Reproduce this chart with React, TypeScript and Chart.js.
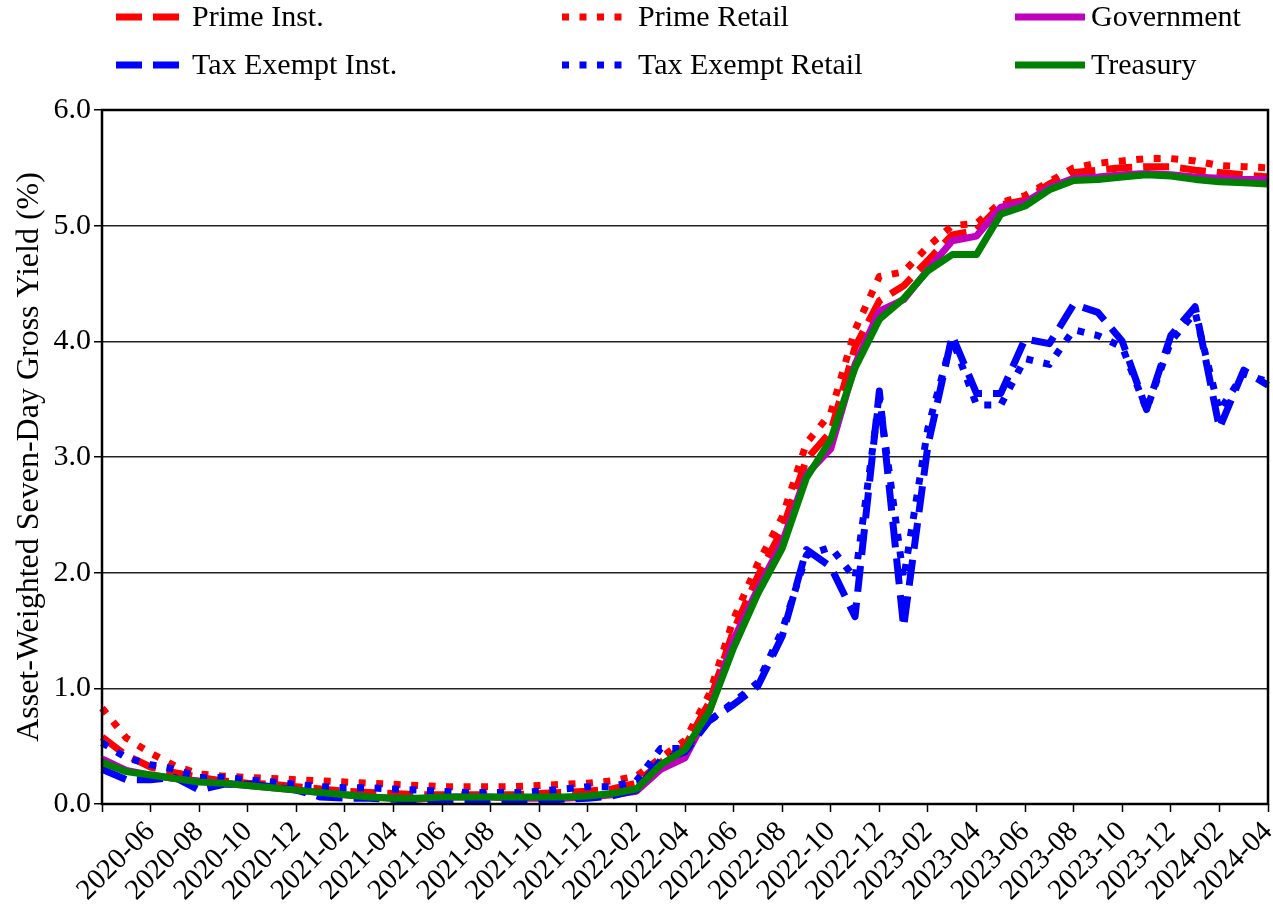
import React, { useEffect, useRef } from 'react';
import { Chart, registerables } from 'chart.js';

Chart.register(...registerables);

const months: string[] = [
  '2020-04', '2020-05', '2020-06', '2020-07', '2020-08', '2020-09', '2020-10', '2020-11', '2020-12',
  '2021-01', '2021-02', '2021-03', '2021-04', '2021-05', '2021-06', '2021-07', '2021-08', '2021-09', '2021-10', '2021-11', '2021-12',
  '2022-01', '2022-02', '2022-03', '2022-04', '2022-05', '2022-06', '2022-07', '2022-08', '2022-09', '2022-10', '2022-11', '2022-12',
  '2023-01', '2023-02', '2023-03', '2023-04', '2023-05', '2023-06', '2023-07', '2023-08', '2023-09', '2023-10', '2023-11', '2023-12',
  '2024-01', '2024-02', '2024-03', '2024-04',
];

const primeInst: number[] = [
  0.58, 0.42, 0.32, 0.27, 0.23, 0.20, 0.18, 0.17, 0.15, 0.13, 0.11, 0.10, 0.09, 0.08, 0.08, 0.08, 0.08, 0.08, 0.09, 0.10,
  0.11, 0.13, 0.18, 0.36, 0.50, 0.88, 1.50, 1.97, 2.37, 2.98, 3.22, 3.95, 4.35, 4.48, 4.70, 4.92, 4.96, 5.18, 5.22, 5.36,
  5.46, 5.48, 5.50, 5.51, 5.51, 5.48, 5.46, 5.44, 5.42,
];

const primeRetail: number[] = [
  0.83, 0.57, 0.44, 0.33, 0.26, 0.24, 0.23, 0.22, 0.21, 0.20, 0.19, 0.18, 0.17, 0.16, 0.15, 0.15, 0.15, 0.15, 0.16, 0.17,
  0.18, 0.20, 0.24, 0.40, 0.55, 0.95, 1.60, 2.08, 2.48, 3.12, 3.38, 4.10, 4.56, 4.60, 4.82, 5.00, 5.02, 5.20, 5.26, 5.38,
  5.50, 5.54, 5.56, 5.58, 5.58, 5.56, 5.52, 5.51, 5.50,
];

const government: number[] = [
  0.39, 0.29, 0.25, 0.22, 0.20, 0.18, 0.16, 0.14, 0.12, 0.10, 0.08, 0.06, 0.05, 0.04, 0.06, 0.06, 0.06, 0.05, 0.05, 0.05,
  0.06, 0.08, 0.11, 0.30, 0.40, 0.80, 1.42, 1.86, 2.26, 2.85, 3.07, 3.80, 4.26, 4.36, 4.62, 4.87, 4.91, 5.16, 5.20, 5.33,
  5.41, 5.42, 5.44, 5.45, 5.44, 5.42, 5.41, 5.40, 5.40,
];

const taxExemptInst: number[] = [
  0.30, 0.21, 0.21, 0.23, 0.12, 0.17, 0.17, 0.15, 0.12, 0.06, 0.05, 0.05, 0.04, 0.03, 0.02, 0.02, 0.03, 0.03, 0.03, 0.04,
  0.05, 0.07, 0.12, 0.38, 0.45, 0.72, 0.86, 1.02, 1.45, 2.20, 2.05, 1.62, 3.57, 1.53, 3.10, 4.05, 3.55, 3.55, 4.02, 3.98,
  4.32, 4.25, 4.00, 3.41, 4.05, 4.30, 3.25, 3.75, 3.62,
];

const taxExemptRetail: number[] = [
  0.53, 0.40, 0.34, 0.30, 0.23, 0.23, 0.21, 0.19, 0.17, 0.15, 0.14, 0.14, 0.13, 0.12, 0.11, 0.10, 0.10, 0.10, 0.11, 0.13,
  0.15, 0.15, 0.20, 0.48, 0.48, 0.72, 0.88, 1.05, 1.50, 2.15, 2.22, 1.95, 3.50, 1.95, 3.25, 4.02, 3.45, 3.45, 3.85, 3.80,
  4.10, 4.05, 3.95, 3.41, 4.00, 4.25, 3.40, 3.72, 3.65,
];

const treasury: number[] = [
  0.36, 0.28, 0.25, 0.22, 0.19, 0.18, 0.16, 0.14, 0.12, 0.10, 0.08, 0.06, 0.05, 0.05, 0.06, 0.06, 0.06, 0.06, 0.06, 0.06,
  0.07, 0.09, 0.13, 0.34, 0.47, 0.80, 1.35, 1.82, 2.21, 2.82, 3.15, 3.77, 4.19, 4.37, 4.61, 4.75, 4.75, 5.10, 5.17, 5.31,
  5.39, 5.40, 5.42, 5.44, 5.43, 5.40, 5.38, 5.37, 5.36,
];

const yTicks: number[] = [0, 1, 2, 3, 4, 5, 6];

const FONT = "'Liberation Serif', 'Times New Roman', serif";
const DASHED = [26, 11];
const DOTTED = [7, 10.5];
const LW = 7;

const seriesDefs = [
  { label: 'Prime Inst.', data: primeInst, color: '#ff0000', dash: DASHED },
  { label: 'Prime Retail', data: primeRetail, color: '#ff0000', dash: DOTTED },
  { label: 'Government', data: government, color: '#bf00bf', dash: [] as number[] },
  { label: 'Tax Exempt Inst.', data: taxExemptInst, color: '#0000ff', dash: DASHED },
  { label: 'Tax Exempt Retail', data: taxExemptRetail, color: '#0000ff', dash: DOTTED },
  { label: 'Treasury', data: treasury, color: '#008000', dash: [] as number[] },
];

// legend grid: 3 columns x 2 rows
const legendCols = [116, 562, 1015];
const legendRows = [17, 65];

const legendPlugin = {
  id: 'gridLegend',
  afterDraw(chart: any) {
    const ctx = chart.ctx as CanvasRenderingContext2D;
    seriesDefs.forEach((s, i) => {
      const col = i % 3;
      const row = Math.floor(i / 3);
      const x0 = legendCols[col];
      const y = legendRows[row];
      ctx.save();
      ctx.strokeStyle = s.color;
      ctx.lineWidth = LW;
      ctx.lineCap = 'butt';
      ctx.setLineDash(s.dash);
      ctx.beginPath();
      ctx.moveTo(x0, y);
      ctx.lineTo(x0 + 70, y);
      ctx.stroke();
      ctx.setLineDash([]);
      ctx.fillStyle = '#000';
      ctx.font = `30px ${FONT}`;
      ctx.textBaseline = 'middle';
      ctx.textAlign = 'left';
      ctx.fillText(s.label, x0 + 76, y + 1);
      ctx.restore();
    });
  },
};

const framePlugin = {
  id: 'frame',
  afterDraw(chart: any) {
    const { ctx, chartArea } = chart;
    ctx.save();
    ctx.strokeStyle = '#000';
    ctx.lineWidth = 2.5;
    ctx.strokeRect(chartArea.left, chartArea.top, chartArea.right - chartArea.left, chartArea.bottom - chartArea.top);
    ctx.restore();
  },
};

export default function App() {
  const ref = useRef<HTMLCanvasElement>(null);

  useEffect(() => {
    document.body.style.margin = '0';
    const canvas = ref.current;
    if (!canvas) return;
    const chart = new Chart(canvas, {
      type: 'line',
      data: {
        labels: months,
        datasets: seriesDefs.map((s, i) => ({
          label: s.label,
          data: s.data,
          borderColor: s.color,
          backgroundColor: s.color,
          borderWidth: LW,
          borderDash: s.dash,
          borderCapStyle: 'butt',
          borderJoinStyle: 'round',
          pointRadius: 0,
          tension: 0,
          fill: false,
          order: seriesDefs.length - i,
        })),
      },
      options: {
        animation: false,
        responsive: false,
        devicePixelRatio: 1,
        layout: { padding: { top: 110, right: 5, left: 0, bottom: 0 } },
        plugins: {
          legend: { display: false },
          tooltip: { enabled: false },
        },
        scales: {
          x: {
            type: 'category',
            offset: false,
            border: { display: false },
            grid: {
              drawOnChartArea: false,
              drawTicks: true,
              tickLength: 8,
              tickWidth: 1.5,
              tickColor: (c: any) => (c.index % 2 === 0 ? '#000' : 'rgba(0,0,0,0)'),
            },
            ticks: {
              autoSkip: false,
              minRotation: 45,
              maxRotation: 45,
              padding: 3,
              color: '#000',
              font: { family: FONT, size: 29 },
              callback: (_v: any, i: number) => (i % 2 === 0 && i > 0 ? months[i] : ''),
            },
            afterFit: (s: any) => {
              s.height = 107;
              s.paddingLeft = 0;
              s.paddingRight = 0;
            },
          },
          y: {
            min: 0,
            max: 6,
            border: { display: false },
            grid: {
              color: '#222',
              lineWidth: 1.5,
              drawTicks: true,
              tickLength: 8,
              tickColor: '#000',
              tickWidth: 1.5,
            },
            afterBuildTicks: (s: any) => {
              s.ticks = yTicks.map((v) => ({ value: v }));
            },
            ticks: {
              padding: 3,
              color: '#000',
              font: { family: FONT, size: 30 },
              callback: (v: any) => Number(v).toFixed(1),
            },
            title: {
              display: true,
              text: 'Asset-Weighted Seven-Day Gross Yield (%)',
              color: '#000',
              font: { family: FONT, size: 32 },
              padding: { top: 10, bottom: 0 },
            },
            afterFit: (s: any) => {
              s.width = 102;
              s.paddingTop = 0;
              s.paddingBottom = 0;
            },
          },
        },
      },
      plugins: [framePlugin, legendPlugin],
    } as any);
    return () => chart.destroy();
  }, []);

  return <canvas ref={ref} width={1273} height={911} style={{ display: 'block' }} />;
}
